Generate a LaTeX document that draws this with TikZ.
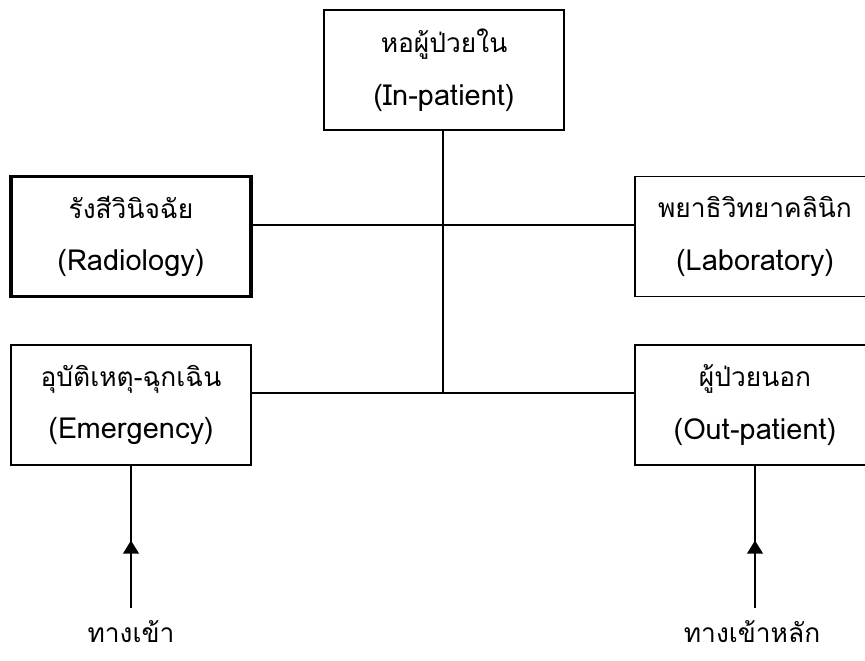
\documentclass[tikz,border=0pt]{standalone}
\usepackage{fontspec}
\newfontfamily\thaifont[Script=Thai]{Loma}
\usetikzlibrary{positioning,arrows.meta,decorations.markings}

\newcommand\thline[1]{{\fontsize{15}{20}\selectfont #1}}

\tikzset{
  unit/.style={rectangle,draw=black,line width=1pt,minimum width=4.8cm,minimum height=2.4cm,align=center},
  mainunit/.style={unit,line width=2pt},
  link/.style={black,line width=1pt},
  entry/.style={link,postaction={decorate},decoration={markings,
      mark=at position 0.475 with {\arrow{Triangle[width=9pt,length=7.5pt]}}}},
}

\begin{document}
\begin{tikzpicture}[x=0.02cm,y=0.02cm,font=\thaifont\fontsize{16.5}{20}\selectfont]
      \useasboundingbox (0,0) rectangle (865,-660);

      % wards
      \node[unit] (inpat) at (444,-70) {\thline{หอผู้ป่วยใน}\\[10pt](In-patient)};
      \node[mainunit] (radio) at (131,-236.5) {\thline{รังสีวินิจฉัย}\\[10pt](Radiology)};
      \node[unit] (lab) at (755,-236.5) {\thline{พยาธิวิทยาคลินิก}\\[10pt](Laboratory)};
      \node[unit] (emerg) at (131,-405) {\thline{อุบัติเหตุ-ฉุกเฉิน}\\[10pt](Emergency)};
      \node[unit] (outpat) at (755,-405) {\thline{ผู้ป่วยนอก}\\[10pt](Out-patient)};

      % corridor
      \coordinate (jtop) at (443,-225);
      \coordinate (jbot) at (443,-393);
      \draw[link] (inpat.south -| jtop) -- (jbot);
      \draw[link] (radio.east |- jtop) -- (lab.west |- jtop);
      \draw[link] (emerg.east |- jbot) -- (outpat.west |- jbot);

      % entrances
      \node (gate) at (131,-632) {\thline{ทางเข้า}};
      \node (maingate) at (752,-632) {\thline{ทางเข้าหลัก}};
      \coordinate (in1) at (131,-608);
      \coordinate (in2) at (755,-608);
      \draw[entry] (in1) -- (emerg.south);
      \draw[entry] (in2) -- (outpat.south);

   \end{tikzpicture}
\end{document}
